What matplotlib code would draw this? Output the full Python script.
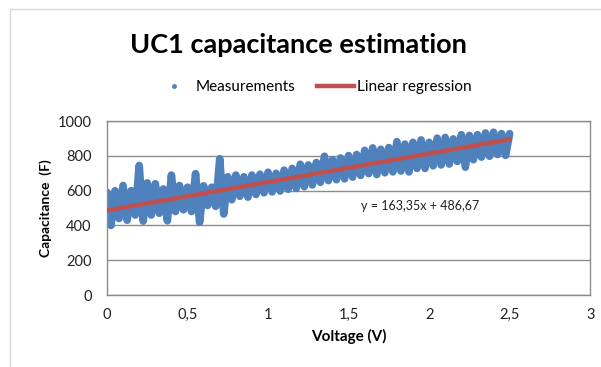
import matplotlib.pyplot as plt
from matplotlib.lines import Line2D
import numpy as np

# measured capacitance vs. voltage (alternating upper/lower readings)
voltage = [0.000, 0.025, 0.050, 0.075, 0.100, 0.125, 0.150, 0.175, 0.200, 0.225,
           0.250, 0.275, 0.300, 0.325, 0.350, 0.375, 0.400, 0.425, 0.450, 0.475,
           0.500, 0.525, 0.550, 0.575, 0.600, 0.625, 0.650, 0.675, 0.700, 0.725,
           0.750, 0.775, 0.800, 0.825, 0.850, 0.875, 0.900, 0.925, 0.950, 0.975,
           1.000, 1.025, 1.050, 1.075, 1.100, 1.125, 1.150, 1.175, 1.200, 1.225,
           1.250, 1.275, 1.300, 1.325, 1.350, 1.375, 1.400, 1.425, 1.450, 1.475,
           1.500, 1.525, 1.550, 1.575, 1.600, 1.625, 1.650, 1.675, 1.700, 1.725,
           1.750, 1.775, 1.800, 1.825, 1.850, 1.875, 1.900, 1.925, 1.950, 1.975,
           2.000, 2.025, 2.050, 2.075, 2.100, 2.125, 2.150, 2.175, 2.200, 2.225,
           2.250, 2.275, 2.300, 2.325, 2.350, 2.375, 2.400, 2.425, 2.450, 2.475,
           2.500]
capacitance = [590, 400, 600, 440, 630, 430, 600, 460, 745, 425,
               645, 460, 640, 470, 610, 427, 690, 480, 630, 490,
               620, 480, 698, 418, 628, 515, 620, 510, 784, 466,
               680, 548, 690, 568, 680, 563, 690, 578, 695, 588,
               706, 593, 700, 598, 718, 608, 728, 613, 752, 623,
               748, 633, 762, 648, 798, 658, 778, 663, 788, 668,
               802, 678, 808, 688, 832, 698, 846, 693, 838, 703,
               848, 708, 882, 713, 868, 708, 878, 728, 892, 728,
               878, 743, 902, 748, 906, 753, 898, 768, 922, 735,
               918, 778, 922, 793, 932, 798, 936, 808, 928, 803,
               928]

# linear fit y = a*x + b
fit_slope = 163.35
fit_intercept = 486.67
fit_range = [0.0, 2.5]

x_ticks = [0, 0.5, 1, 1.5, 2, 2.5, 3]
x_tick_labels = ['0', '0,5', '1', '1,5', '2', '2,5', '3']
y_ticks = [0, 200, 400, 600, 800, 1000]

blue = '#4F81BD'
red = '#C0504D'
grid_gray = '#8C8C8C'

plt.rcParams['font.family'] = ['Lato', 'DejaVu Sans']

fig = plt.figure(figsize=(6.01, 3.67), dpi=100)
ax = fig.add_axes([0.178, 0.196, 0.804, 0.474])

ax.plot(voltage, capacitance, color=blue, lw=5.5, solid_joinstyle='round',
        solid_capstyle='round', zorder=2)
fx = np.array(fit_range)
ax.plot(fx, fit_slope * fx + fit_intercept, color=red, lw=3.2, zorder=3)

ax.set_xlim(0, 3)
ax.set_ylim(0, 1000)
ax.set_xticks(x_ticks)
ax.set_xticklabels(x_tick_labels)
ax.set_yticks(y_ticks)
ax.tick_params(length=0, labelsize=10.5, colors='#222222')
ax.tick_params(axis='y', pad=11)
ax.tick_params(axis='x', pad=9)
ax.yaxis.grid(True, color=grid_gray, lw=1)
ax.set_axisbelow(True)
for s in ax.spines.values():
    s.set_color(grid_gray)
    s.set_linewidth(1)

ax.set_xlabel('Voltage (V)', fontsize=11, fontweight='bold', labelpad=5)
ax.set_ylabel('Capacitance  (F)', fontsize=10, fontweight='bold', labelpad=4)

eq = 'y = {:.2f}x + {:.2f}'.format(fit_slope, fit_intercept).replace('.', ',')
ax.text(1.58, 510, eq, fontsize=9, color='#222222', va='center')

fig.text(0.496, 0.878, 'UC1 capacitance estimation', ha='center', va='center',
         fontsize=19.5, fontweight='bold')

handles = [Line2D([], [], ls='none', marker='o', ms=2.5, color=blue),
           Line2D([], [], color=red, lw=3.2)]
fig.legend(handles, ['Measurements', 'Linear regression'], loc='center',
           bbox_to_anchor=(0.522, 0.763), ncol=2, frameon=False, fontsize=11,
           handlelength=2.4, handletextpad=0.2, columnspacing=1.4)

# chart border (left and top edges)
fig.add_artist(Line2D([0.017, 0.017], [0.0, 0.975], color='#D9D9D9', lw=1))
fig.add_artist(Line2D([0.017, 1.0], [0.975, 0.975], color='#D9D9D9', lw=1))

fig.savefig('out.png', dpi=100)
